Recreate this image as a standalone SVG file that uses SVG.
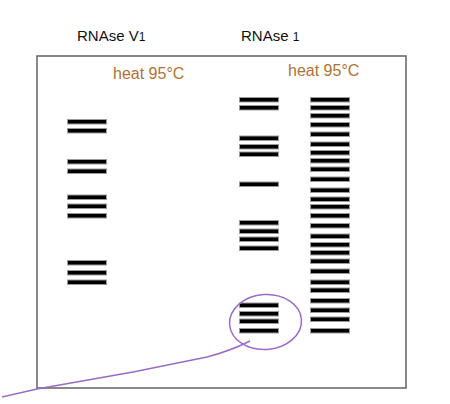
<svg xmlns="http://www.w3.org/2000/svg" width="450" height="404" viewBox="0 0 450 404">
<style>
.band{fill:#000;stroke:#9a9a9a;stroke-width:1}
.lbl{font-family:"Liberation Sans",Arial,sans-serif;font-size:15px;fill:#111}
.heat{font-family:"Liberation Sans",Arial,sans-serif;font-size:16px;fill:#b0713a}
.ann{fill:none;stroke:#9a6cc6;stroke-width:1.5}
</style>
<rect width="450" height="404" fill="#fff"/>
<g id="gel">
<rect x="37" y="56" width="369" height="332" fill="none" stroke="#6b6b6b" stroke-width="1.6"/>
</g>
<g id="labels">
<text class="lbl" x="77" y="41">RNAse V<tspan font-size="12">1</tspan></text>
<text class="lbl" x="241" y="41">RNAse <tspan font-size="12">1</tspan></text>
<text class="heat" x="113" y="79">heat 95°C</text>
<text class="heat" x="288" y="76">heat 95°C</text>
</g>
<g id="lane1">
<rect class="band" x="67.5" y="119.5" width="39" height="4.5"/>
<rect class="band" x="67.5" y="128.5" width="39" height="4.5"/>
<rect class="band" x="67.5" y="159.5" width="39" height="4.5"/>
<rect class="band" x="67.5" y="169" width="39" height="4.5"/>
<rect class="band" x="67.5" y="195" width="39" height="4.5"/>
<rect class="band" x="67.5" y="204" width="39" height="4.5"/>
<rect class="band" x="67.5" y="213.5" width="39" height="4.5"/>
<rect class="band" x="67.5" y="260.5" width="39" height="4.5"/>
<rect class="band" x="67.5" y="270.5" width="39" height="4.5"/>
<rect class="band" x="67.5" y="280" width="39" height="4.5"/>
</g>
<g id="lane2">
<rect class="band" x="239.5" y="97.5" width="39" height="4.5"/>
<rect class="band" x="239.5" y="105.5" width="39" height="4.5"/>
<rect class="band" x="239.5" y="136" width="39" height="4.5"/>
<rect class="band" x="239.5" y="144.5" width="39" height="4.5"/>
<rect class="band" x="239.5" y="152" width="39" height="4.5"/>
<rect class="band" x="239.5" y="182" width="39" height="4.5"/>
<rect class="band" x="239.5" y="220.5" width="39" height="4.5"/>
<rect class="band" x="239.5" y="229" width="39" height="4.5"/>
<rect class="band" x="239.5" y="237" width="39" height="4.5"/>
<rect class="band" x="239.5" y="246" width="39" height="4.5"/>
<rect class="band" x="239.5" y="303" width="39" height="4.5"/>
<rect class="band" x="239.5" y="311.5" width="39" height="4.5"/>
<rect class="band" x="239.5" y="319" width="39" height="4.5"/>
<rect class="band" x="239.5" y="328.5" width="39" height="4.5"/>
</g>
<g id="lane3">
<rect class="band" x="310.5" y="97.5" width="39" height="4.5"/>
<rect class="band" x="310.5" y="105.5" width="39" height="4.5"/>
<rect class="band" x="310.5" y="113.5" width="39" height="4.5"/>
<rect class="band" x="310.5" y="122.5" width="39" height="4.5"/>
<rect class="band" x="310.5" y="132" width="39" height="4.5"/>
<rect class="band" x="310.5" y="142" width="39" height="4.5"/>
<rect class="band" x="310.5" y="150.5" width="39" height="4.5"/>
<rect class="band" x="310.5" y="158.5" width="39" height="4.5"/>
<rect class="band" x="310.5" y="167" width="39" height="4.5"/>
<rect class="band" x="310.5" y="177" width="39" height="4.5"/>
<rect class="band" x="310.5" y="188" width="39" height="4.5"/>
<rect class="band" x="310.5" y="197" width="39" height="4.5"/>
<rect class="band" x="310.5" y="204.5" width="39" height="4.5"/>
<rect class="band" x="310.5" y="213.5" width="39" height="4.5"/>
<rect class="band" x="310.5" y="223.5" width="39" height="4.5"/>
<rect class="band" x="310.5" y="234" width="39" height="4.5"/>
<rect class="band" x="310.5" y="242.5" width="39" height="4.5"/>
<rect class="band" x="310.5" y="250.5" width="39" height="4.5"/>
<rect class="band" x="310.5" y="259" width="39" height="4.5"/>
<rect class="band" x="310.5" y="269" width="39" height="4.5"/>
<rect class="band" x="310.5" y="280" width="39" height="4.5"/>
<rect class="band" x="310.5" y="288" width="39" height="4.5"/>
<rect class="band" x="310.5" y="298.5" width="39" height="4.5"/>
<rect class="band" x="310.5" y="308" width="39" height="4.5"/>
<rect class="band" x="310.5" y="317" width="39" height="4.5"/>
<rect class="band" x="310.5" y="328.5" width="39" height="4.5"/>
</g>
<g id="annotation">
<ellipse class="ann" cx="265.5" cy="322" rx="36" ry="27.5" transform="rotate(-4 265.5 322)"/>
<path class="ann" d="M2 397 L37 389 L133 372 L207 357 Q230 351 250 341"/>
</g>
</svg>
